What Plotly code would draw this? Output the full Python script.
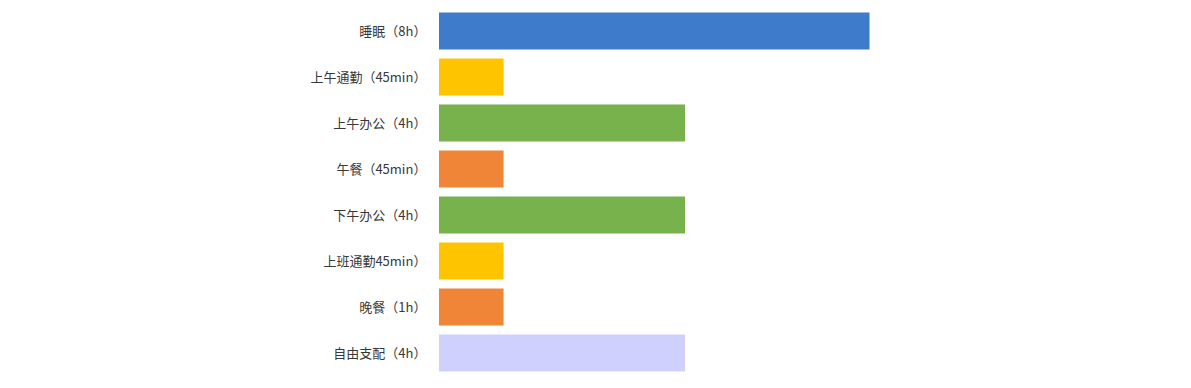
import plotly.graph_objects as go

categories = ["睡眠（8h）", "上午通勤（45min）", "上午办公（4h）", "午餐（45min）",
              "下午办公（4h）", "上班通勤45min）", "晚餐（1h）", "自由支配（4h）"]
values = [7, 1.05, 4, 1.05, 4, 1.05, 1.05, 4]
colors = ["#3F7BCB", "#FFC400", "#77B24D", "#F08538", "#77B24D", "#FFC400", "#F08538", "#D0D0FF"]

fig = go.Figure(go.Bar(
    x=values, y=categories, orientation="h",
    marker=dict(color=colors, line=dict(width=0)),
    hoverinfo="x+y",
))
fig.update_layout(
    width=1191, height=388,
    margin=dict(l=431, r=145, t=0, b=20),
    paper_bgcolor="white", plot_bgcolor="white",
    bargap=0.2,
    showlegend=False,
    font=dict(family="Noto Sans CJK SC", size=13, color="#383838"),
)
fig.update_xaxes(range=[0, 10], visible=False, showgrid=False, zeroline=False)
fig.update_yaxes(autorange="reversed", showgrid=False, zeroline=False, showline=False,
                 automargin=False,
                 ticks="outside", ticklen=9, tickcolor="rgba(0,0,0,0)")
fig.write_html("out.html")
